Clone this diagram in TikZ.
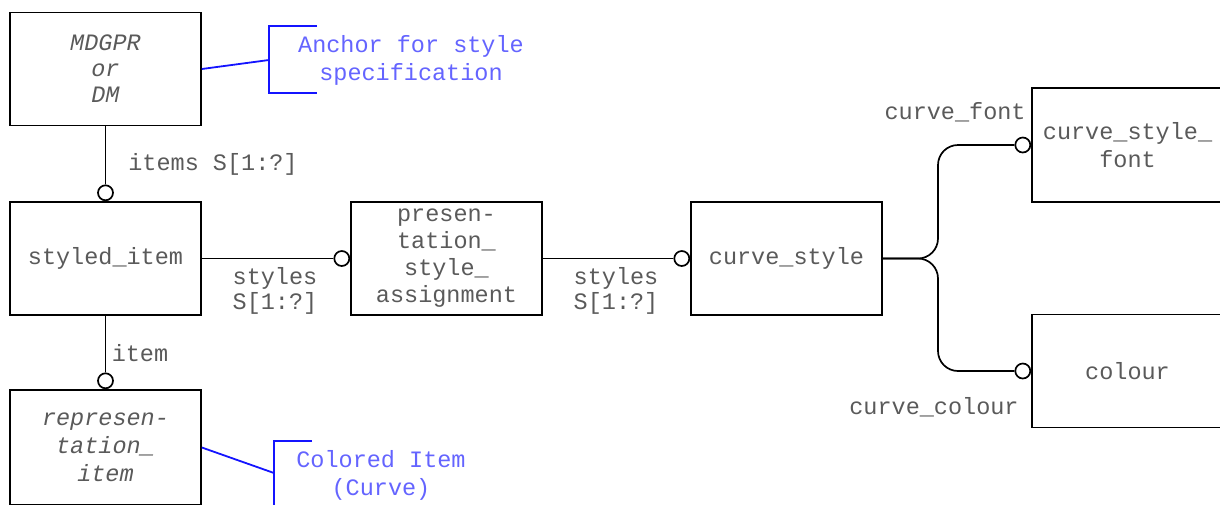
\documentclass[tikz,border=0pt]{standalone}
\usepackage{fontspec}
\setmainfont{Liberation Mono}
\setmonofont{Liberation Mono}
\usetikzlibrary{calc}
\definecolor{txt}{RGB}{90,90,90}
\definecolor{annline}{RGB}{20,20,255}
\definecolor{anntxt}{RGB}{100,100,255}
\tikzset{
  ent/.style={draw, line width=0.85pt, minimum width=95.5pt, minimum height=56.5pt, inner sep=0pt, align=center, font=\fontsize{11.75}{13.5}\selectfont, text=txt},
  lbl/.style={font=\fontsize{11.75}{12.5}\selectfont, text=txt, inner sep=0pt, align=center},
  ocirc/.style={draw, circle, line width=0.85pt, minimum size=7.5pt, inner sep=0pt, fill=white},
  conn/.style={line width=0.85pt},
  ann/.style={draw=annline, line width=0.9pt},
  anntext/.style={text=anntxt, font=\fontsize{11.75}{14}\selectfont, inner sep=0pt, align=center}
}
\begin{document}
\begin{tikzpicture}[x=0.5pt,y=-0.5pt]
\useasboundingbox (0,0) rectangle (1220,504);
% entities
\node[ent, font=\fontsize{11.75}{13}\selectfont\itshape] (mdgpr) at (105.5,69) {MDGPR\\or\\DM};
\node[ent] (styled) at (105.5,258.5) {styled\_item};
\node[ent] (pres) at (446.5,258.5) {presen-\\tation\_\\style\_\\assignment};
\node[ent] (cstyle) at (786.5,258.5) {curve\_style};
\node[ent, minimum height=57pt, font=\fontsize{11.75}{14}\selectfont] (csfont) at (1127.5,145) {curve\_style\_\\font};
\node[ent] (colour) at (1127.5,371) {colour};
\node[ent, minimum height=57.5pt, font=\fontsize{11.75}{14}\selectfont\itshape] (rep) at (105.5,447.5) {represen-\\tation\_\\item};
% open circles
\node[ocirc, anchor=south] (c1) at (styled.north) {};
\node[ocirc, anchor=south] (c2) at (rep.north) {};
\node[ocirc, anchor=east] (c3) at (pres.west) {};
\node[ocirc, anchor=east] (c4) at (cstyle.west) {};
\node[ocirc, anchor=east] (c5) at (csfont.west) {};
\node[ocirc, anchor=east] (c6) at (colour.west) {};
% connectors
\draw[conn] (mdgpr.south) -- (c1.north);
\draw[conn] (styled.south) -- (c2.north);
\draw[conn] (styled.east) -- (c3.west);
\draw[conn] (pres.east) -- (c4.west);
\coordinate (fk) at (938,258.5);
\draw[conn, rounded corners=10pt] (cstyle.east) -- (fk) -- (fk |- c5.west) -- (c5.west);
\draw[conn, rounded corners=10pt] (cstyle.east) -- (fk) -- (fk |- c6.west) -- (c6.west);
% labels
\node[lbl] (l1) at (213,164) {items S[1:?]};
\node[lbl] (l2) at (275,291) {styles\\S[1:?]};
\node[lbl] (l3) at (616,291) {styles\\S[1:?]};
\node[lbl] (l4) at (140,353) {item};
\node[lbl, anchor=east] (l5) at (1026,112) {curve\_font};
\node[lbl, anchor=east] (l6) at (1019,407) {curve\_colour};
% annotation 1
\coordinate (b1t) at (269,26);
\coordinate (b1b) at (269,93);
\coordinate (b1m) at (269,60);
\draw[ann] (317,26) -- (b1t) -- (b1b) -- (317,93);
\draw[ann] (mdgpr.east) -- (b1m);
\node[anntext] (a1) at (411,60) {Anchor for style\\specification};
% annotation 2
\coordinate (b2t) at (274,441);
\coordinate (b2m) at (274,473);
\draw[ann] (312,441) -- (b2t) -- (274,510);
\draw[ann] (rep.east) -- (b2m);
\node[anntext] (a2) at (381,475.5) {Colored Item\\(Curve)};
\end{tikzpicture}
\end{document}
